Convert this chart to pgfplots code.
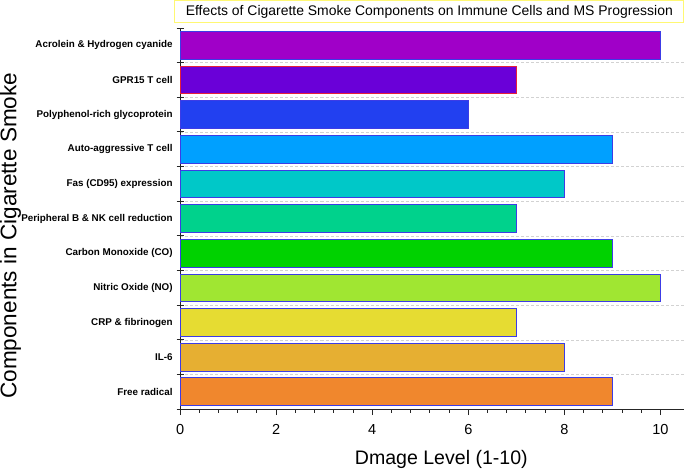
\documentclass[border=0pt]{standalone}
\usepackage{pgfplots}
\pgfplotsset{compat=1.18}
\usepackage{fontspec}
\setmainfont{Liberation Sans}
\definecolor{bord}{HTML}{3C3CE6}
\begin{document}
\begin{tikzpicture}
\begin{axis}[
 scale only axis, width=503pt, height=380pt,
 xbar, bar width=0.8, bar shift=0pt,
 xmin=0, xmax=10.5, ymin=-0.5, ymax=10.5,
 axis x line*=bottom, axis y line*=left,
 axis line style={-, line width=1pt, black!85},
 xtick={0,2,...,10}, minor x tick num=4,
 tick align=outside,
 major tick length=6pt, minor tick length=3.5pt,
 every tick/.style={line width=1pt, black!85},
 ytick={0,...,10},
 yticklabels={Free radical, IL-6, CRP \& fibrinogen, Nitric Oxide (NO), Carbon Monoxide (CO), Peripheral B \& NK cell reduction, Fas (CD95) expression, Auto-aggressive T cell, Polyphenol-rich glycoprotein, GPR15 T cell, Acrolein \& Hydrogen cyanide},
 major y tick style={draw=none},
 minor ytick={0.5,1.5,...,9.5},
 minor y tick style={draw=none},
 yminorgrids, minor grid style={densely dashed, gray!35, line width=0.6pt},
 extra y ticks={-0.5,0.5,...,10.5},
 extra y tick labels={},
 extra y tick style={major y tick style={draw=black!85, line width=1pt}, tick align=center, major tick length=7pt},
 yticklabel style={font=\fontsize{9.8}{11}\selectfont\bfseries, xshift=2pt},
 xticklabel style={font=\fontsize{14.5}{17}\selectfont, yshift=-6pt},
 /pgf/number format/assume math mode=true,
 xlabel={Dmage Level (1-10)},
 xlabel style={font=\fontsize{19.5}{22}\selectfont, xshift=9pt, yshift=-8pt},
 ylabel={Components in Cigarette Smoke},
 ylabel style={font=\fontsize{22.5}{25}\selectfont, at={(axis description cs:-0.315,0.455)}, anchor=south, rotate=0, inner sep=0pt},
 title={Effects of Cigarette Smoke Components on Immune Cells and MS Progression},
 title style={draw=yellow!55!white, line width=1pt, font=\fontsize{13.9}{16}\selectfont, minimum width=508pt, minimum height=22pt, xshift=-3pt, yshift=-1pt},
 every axis plot/.append style={line width=1pt, draw=bord},
]
\addplot[fill={rgb,255:red,240;green,135;blue,45}] coordinates {(9,0)};
\addplot[fill={rgb,255:red,230;green,175;blue,50}] coordinates {(8,1)};
\addplot[fill={rgb,255:red,230;green,220;blue,50}] coordinates {(7,2)};
\addplot[fill={rgb,255:red,160;green,230;blue,50}] coordinates {(10,3)};
\addplot[fill={rgb,255:red,0;green,210;blue,0}] coordinates {(9,4)};
\addplot[fill={rgb,255:red,0;green,210;blue,140}] coordinates {(7,5)};
\addplot[fill={rgb,255:red,0;green,200;blue,200}] coordinates {(8,6)};
\addplot[fill={rgb,255:red,0;green,160;blue,255}] coordinates {(9,7)};
\addplot[fill={rgb,255:red,34;green,64;blue,240}] coordinates {(6,8)};
\addplot[fill={rgb,255:red,106;green,0;blue,216}, draw={rgb,255:red,230;green,30;blue,60}] coordinates {(7,9)};
\addplot[fill={rgb,255:red,160;green,0;blue,200}] coordinates {(10,10)};
\end{axis}
\end{tikzpicture}
\end{document}
